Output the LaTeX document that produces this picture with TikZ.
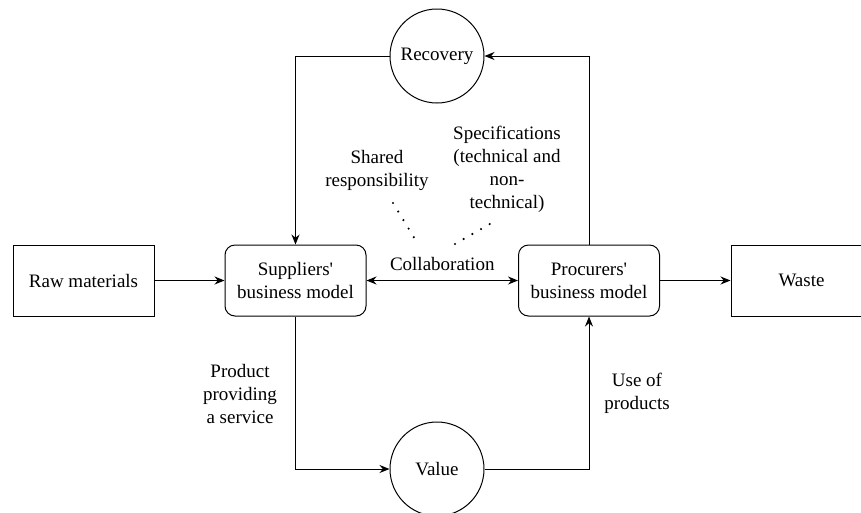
\documentclass[tikz,border=0pt]{standalone}
\usepackage{fontspec}
\setmainfont{Liberation Serif}
\usetikzlibrary{arrows.meta,positioning}

\begin{document}
\begin{tikzpicture}[x=1pt,y=-1pt,line width=1pt,
        font=\fontsize{19}{23}\selectfont,
        >={Stealth[length=10pt,width=8pt]},
        box/.style={draw, minimum width=141pt, minimum height=71pt, align=center, inner sep=0pt},
        bmodel/.style={box, rounded corners=10pt},
        stage/.style={draw, circle, minimum size=94pt, inner sep=0pt},
        note/.style={align=center, inner sep=1pt},
        dots/.style={line width=2.4pt, line cap=round, dash pattern=on 0pt off 10pt}]
        \useasboundingbox[clip] (0,0) rectangle (861,512);
        % boxes
        \node [box] (raw) at (83.5,280.5) {Raw materials};
        \node [bmodel] (sup) at (295.5,280.5) {Suppliers\textquotesingle\\business model};
        \node [bmodel] (proc) at (589,280.5) {Procurers\textquotesingle\\business model};
        \node [box] (waste) at (801.5,280.5) {Waste};
        \node [stage] (rec) at (437,56) {Recovery};
        \node [stage] (val) at (437,469) {Value};
        % flows
        \draw [->] (raw) -- (sup);
        \draw [->] (proc) -- (waste);
        \draw [<->] (sup) -- node [above=9pt, inner sep=0pt] (collab) {Collaboration} (proc);
        \draw [->] (sup.south) |- (val.west);
        \draw [->] (val.east) -| (proc.south);
        \draw [->] (proc.north) |- (rec.east);
        \draw [->] (rec.west) -| (sup.north);
        % labels
        \node [note] (shared) at (377,170) {Shared\\responsibility};
        \node [note] (spec) at (507,169) {Specifications\\(technical and\\non-\\technical)};
        \node [note] (prod) at (240,394) {Product\\providing\\a service};
        \node [note] (use) at (637,393.5) {Use of\\products};
        \coordinate (s1) at (393,203);
        \coordinate (s2) at (418,244);
        \coordinate (t1) at (455,244);
        \coordinate (t2) at (495,221);
        \draw [dots] (s1) -- (s2);
        \draw [dots] (t1) -- (t2);
\end{tikzpicture}
\end{document}
